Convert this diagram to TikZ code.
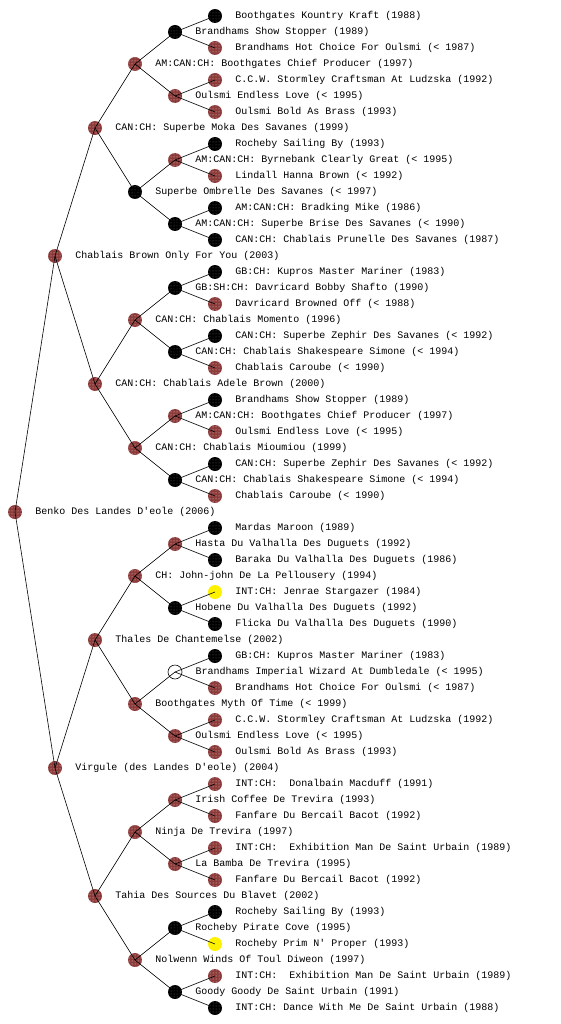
\documentclass[tikz,border=0pt]{standalone}
\usepackage{fontspec}
\setmonofont{Liberation Mono}
\usepackage{tikz}
\usepackage{xcolor}
\usetikzlibrary{patterns}

\definecolor{dogbrown}{RGB}{140,58,58}

\begin{document}
\begin{tikzpicture}[x=1pt,y=-1pt,
  dogc/.style={circle,minimum size=14pt,inner sep=0pt},
  brn/.style={dogc,fill=dogbrown,postaction={pattern=dots,pattern color=white!80!dogbrown}},
  blk/.style={dogc,fill=black,postaction={pattern=dots,pattern color=white!40!black}},
  yel/.style={dogc,fill=yellow},
  wht/.style={dogc,draw=black,line width=0.6pt,fill=white},
  every label/.style={font=\ttfamily\fontsize{10}{12}\selectfont,inner sep=0pt,label distance=13pt}]
\useasboundingbox (0,0) rectangle (560,1024);
% root and first two generations
\node[brn,label={right:{Benko Des Landes D'eole (2006)}}] (n1) at (15,512) {};
\node[brn,label={right:{Chablais Brown Only For You (2003)}}] (n2) at (55,256) {};
\node[brn,label={right:{Virgule (des Landes D'eole) (2004)}}] (n3) at (55,768) {};
\node[brn,label={right:{CAN:CH: Superbe Moka Des Savanes (1999)}}] (n4) at (95,128) {};
\node[brn,label={right:{CAN:CH: Chablais Adele Brown (2000)}}] (n5) at (95,384) {};
\node[brn,label={right:{Thales De Chantemelse (2002)}}] (n6) at (95,640) {};
\node[brn,label={right:{Tahia Des Sources Du Blavet (2002)}}] (n7) at (95,896) {};
% grandparents
\node[brn,label={right:{AM:CAN:CH: Boothgates Chief Producer (1997)}}] (n8) at (135,64) {};
\node[blk,label={right:{Superbe Ombrelle Des Savanes (< 1997)}}] (n9) at (135,192) {};
\node[brn,label={right:{CAN:CH: Chablais Momento (1996)}}] (n10) at (135,320) {};
\node[brn,label={right:{CAN:CH: Chablais Mioumiou (1999)}}] (n11) at (135,448) {};
\node[brn,label={right:{CH: John-john De La Pellousery (1994)}}] (n12) at (135,576) {};
\node[brn,label={right:{Boothgates Myth Of Time (< 1999)}}] (n13) at (135,704) {};
\node[brn,label={right:{Ninja De Trevira (1997)}}] (n14) at (135,832) {};
\node[brn,label={right:{Nolwenn Winds Of Toul Diweon (1997)}}] (n15) at (135,960) {};
% great-grandparents
\node[blk,label={right:{Brandhams Show Stopper (1989)}}] (n16) at (175,32) {};
\node[brn,label={right:{Oulsmi Endless Love (< 1995)}}] (n17) at (175,96) {};
\node[brn,label={right:{AM:CAN:CH: Byrnebank Clearly Great (< 1995)}}] (n18) at (175,160) {};
\node[blk,label={right:{AM:CAN:CH: Superbe Brise Des Savanes (< 1990)}}] (n19) at (175,224) {};
\node[blk,label={right:{GB:SH:CH: Davricard Bobby Shafto (1990)}}] (n20) at (175,288) {};
\node[blk,label={right:{CAN:CH: Chablais Shakespeare Simone (< 1994)}}] (n21) at (175,352) {};
\node[brn,label={right:{AM:CAN:CH: Boothgates Chief Producer (1997)}}] (n22) at (175,416) {};
\node[blk,label={right:{CAN:CH: Chablais Shakespeare Simone (< 1994)}}] (n23) at (175,480) {};
\node[brn,label={right:{Hasta Du Valhalla Des Duguets (1992)}}] (n24) at (175,544) {};
\node[blk,label={right:{Hobene Du Valhalla Des Duguets (1992)}}] (n25) at (175,608) {};
\node[wht,label={right:{Brandhams Imperial Wizard At Dumbledale (< 1995)}}] (n26) at (175,672) {};
\node[brn,label={right:{Oulsmi Endless Love (< 1995)}}] (n27) at (175,736) {};
\node[brn,label={right:{Irish Coffee De Trevira (1993)}}] (n28) at (175,800) {};
\node[brn,label={right:{La Bamba De Trevira (1995)}}] (n29) at (175,864) {};
\node[blk,label={right:{Rocheby Pirate Cove (1995)}}] (n30) at (175,928) {};
\node[blk,label={right:{Goody Goody De Saint Urbain (1991)}}] (n31) at (175,992) {};
% last generation
\node[blk,label={right:{Boothgates Kountry Kraft (1988)}}] (n32) at (215,16) {};
\node[brn,label={right:{Brandhams Hot Choice For Oulsmi (< 1987)}}] (n33) at (215,48) {};
\node[brn,label={right:{C.C.W. Stormley Craftsman At Ludzska (1992)}}] (n34) at (215,80) {};
\node[brn,label={right:{Oulsmi Bold As Brass (1993)}}] (n35) at (215,112) {};
\node[blk,label={right:{Rocheby Sailing By (1993)}}] (n36) at (215,144) {};
\node[brn,label={right:{Lindall Hanna Brown (< 1992)}}] (n37) at (215,176) {};
\node[blk,label={right:{AM:CAN:CH: Bradking Mike (1986)}}] (n38) at (215,208) {};
\node[blk,label={right:{CAN:CH: Chablais Prunelle Des Savanes (1987)}}] (n39) at (215,240) {};
\node[blk,label={right:{GB:CH: Kupros Master Mariner (1983)}}] (n40) at (215,272) {};
\node[brn,label={right:{Davricard Browned Off (< 1988)}}] (n41) at (215,304) {};
\node[blk,label={right:{CAN:CH: Superbe Zephir Des Savanes (< 1992)}}] (n42) at (215,336) {};
\node[brn,label={right:{Chablais Caroube (< 1990)}}] (n43) at (215,368) {};
\node[blk,label={right:{Brandhams Show Stopper (1989)}}] (n44) at (215,400) {};
\node[brn,label={right:{Oulsmi Endless Love (< 1995)}}] (n45) at (215,432) {};
\node[blk,label={right:{CAN:CH: Superbe Zephir Des Savanes (< 1992)}}] (n46) at (215,464) {};
\node[brn,label={right:{Chablais Caroube (< 1990)}}] (n47) at (215,496) {};
\node[blk,label={right:{Mardas Maroon (1989)}}] (n48) at (215,528) {};
\node[blk,label={right:{Baraka Du Valhalla Des Duguets (1986)}}] (n49) at (215,560) {};
\node[yel,label={right:{INT:CH: Jenrae Stargazer (1984)}}] (n50) at (215,592) {};
\node[blk,label={right:{Flicka Du Valhalla Des Duguets (1990)}}] (n51) at (215,624) {};
\node[blk,label={right:{GB:CH: Kupros Master Mariner (1983)}}] (n52) at (215,656) {};
\node[brn,label={right:{Brandhams Hot Choice For Oulsmi (< 1987)}}] (n53) at (215,688) {};
\node[brn,label={right:{C.C.W. Stormley Craftsman At Ludzska (1992)}}] (n54) at (215,720) {};
\node[brn,label={right:{Oulsmi Bold As Brass (1993)}}] (n55) at (215,752) {};
\node[brn,label={right:{INT:CH:~ Donalbain Macduff (1991)}}] (n56) at (215,784) {};
\node[brn,label={right:{Fanfare Du Bercail Bacot (1992)}}] (n57) at (215,816) {};
\node[brn,label={right:{INT:CH:~ Exhibition Man De Saint Urbain (1989)}}] (n58) at (215,848) {};
\node[brn,label={right:{Fanfare Du Bercail Bacot (1992)}}] (n59) at (215,880) {};
\node[blk,label={right:{Rocheby Sailing By (1993)}}] (n60) at (215,912) {};
\node[yel,label={right:{Rocheby Prim N' Proper (1993)}}] (n61) at (215,944) {};
\node[brn,label={right:{INT:CH:~ Exhibition Man De Saint Urbain (1989)}}] (n62) at (215,976) {};
\node[blk,label={right:{INT:CH: Dance With Me De Saint Urbain (1988)}}] (n63) at (215,1008) {};
% parent lines
\foreach \k in {2,...,63} {
  \pgfmathtruncatemacro\p{\k/2}
  \draw[line width=0.6pt] (n\p.center) -- (n\k.center);
}
\end{tikzpicture}
\end{document}
